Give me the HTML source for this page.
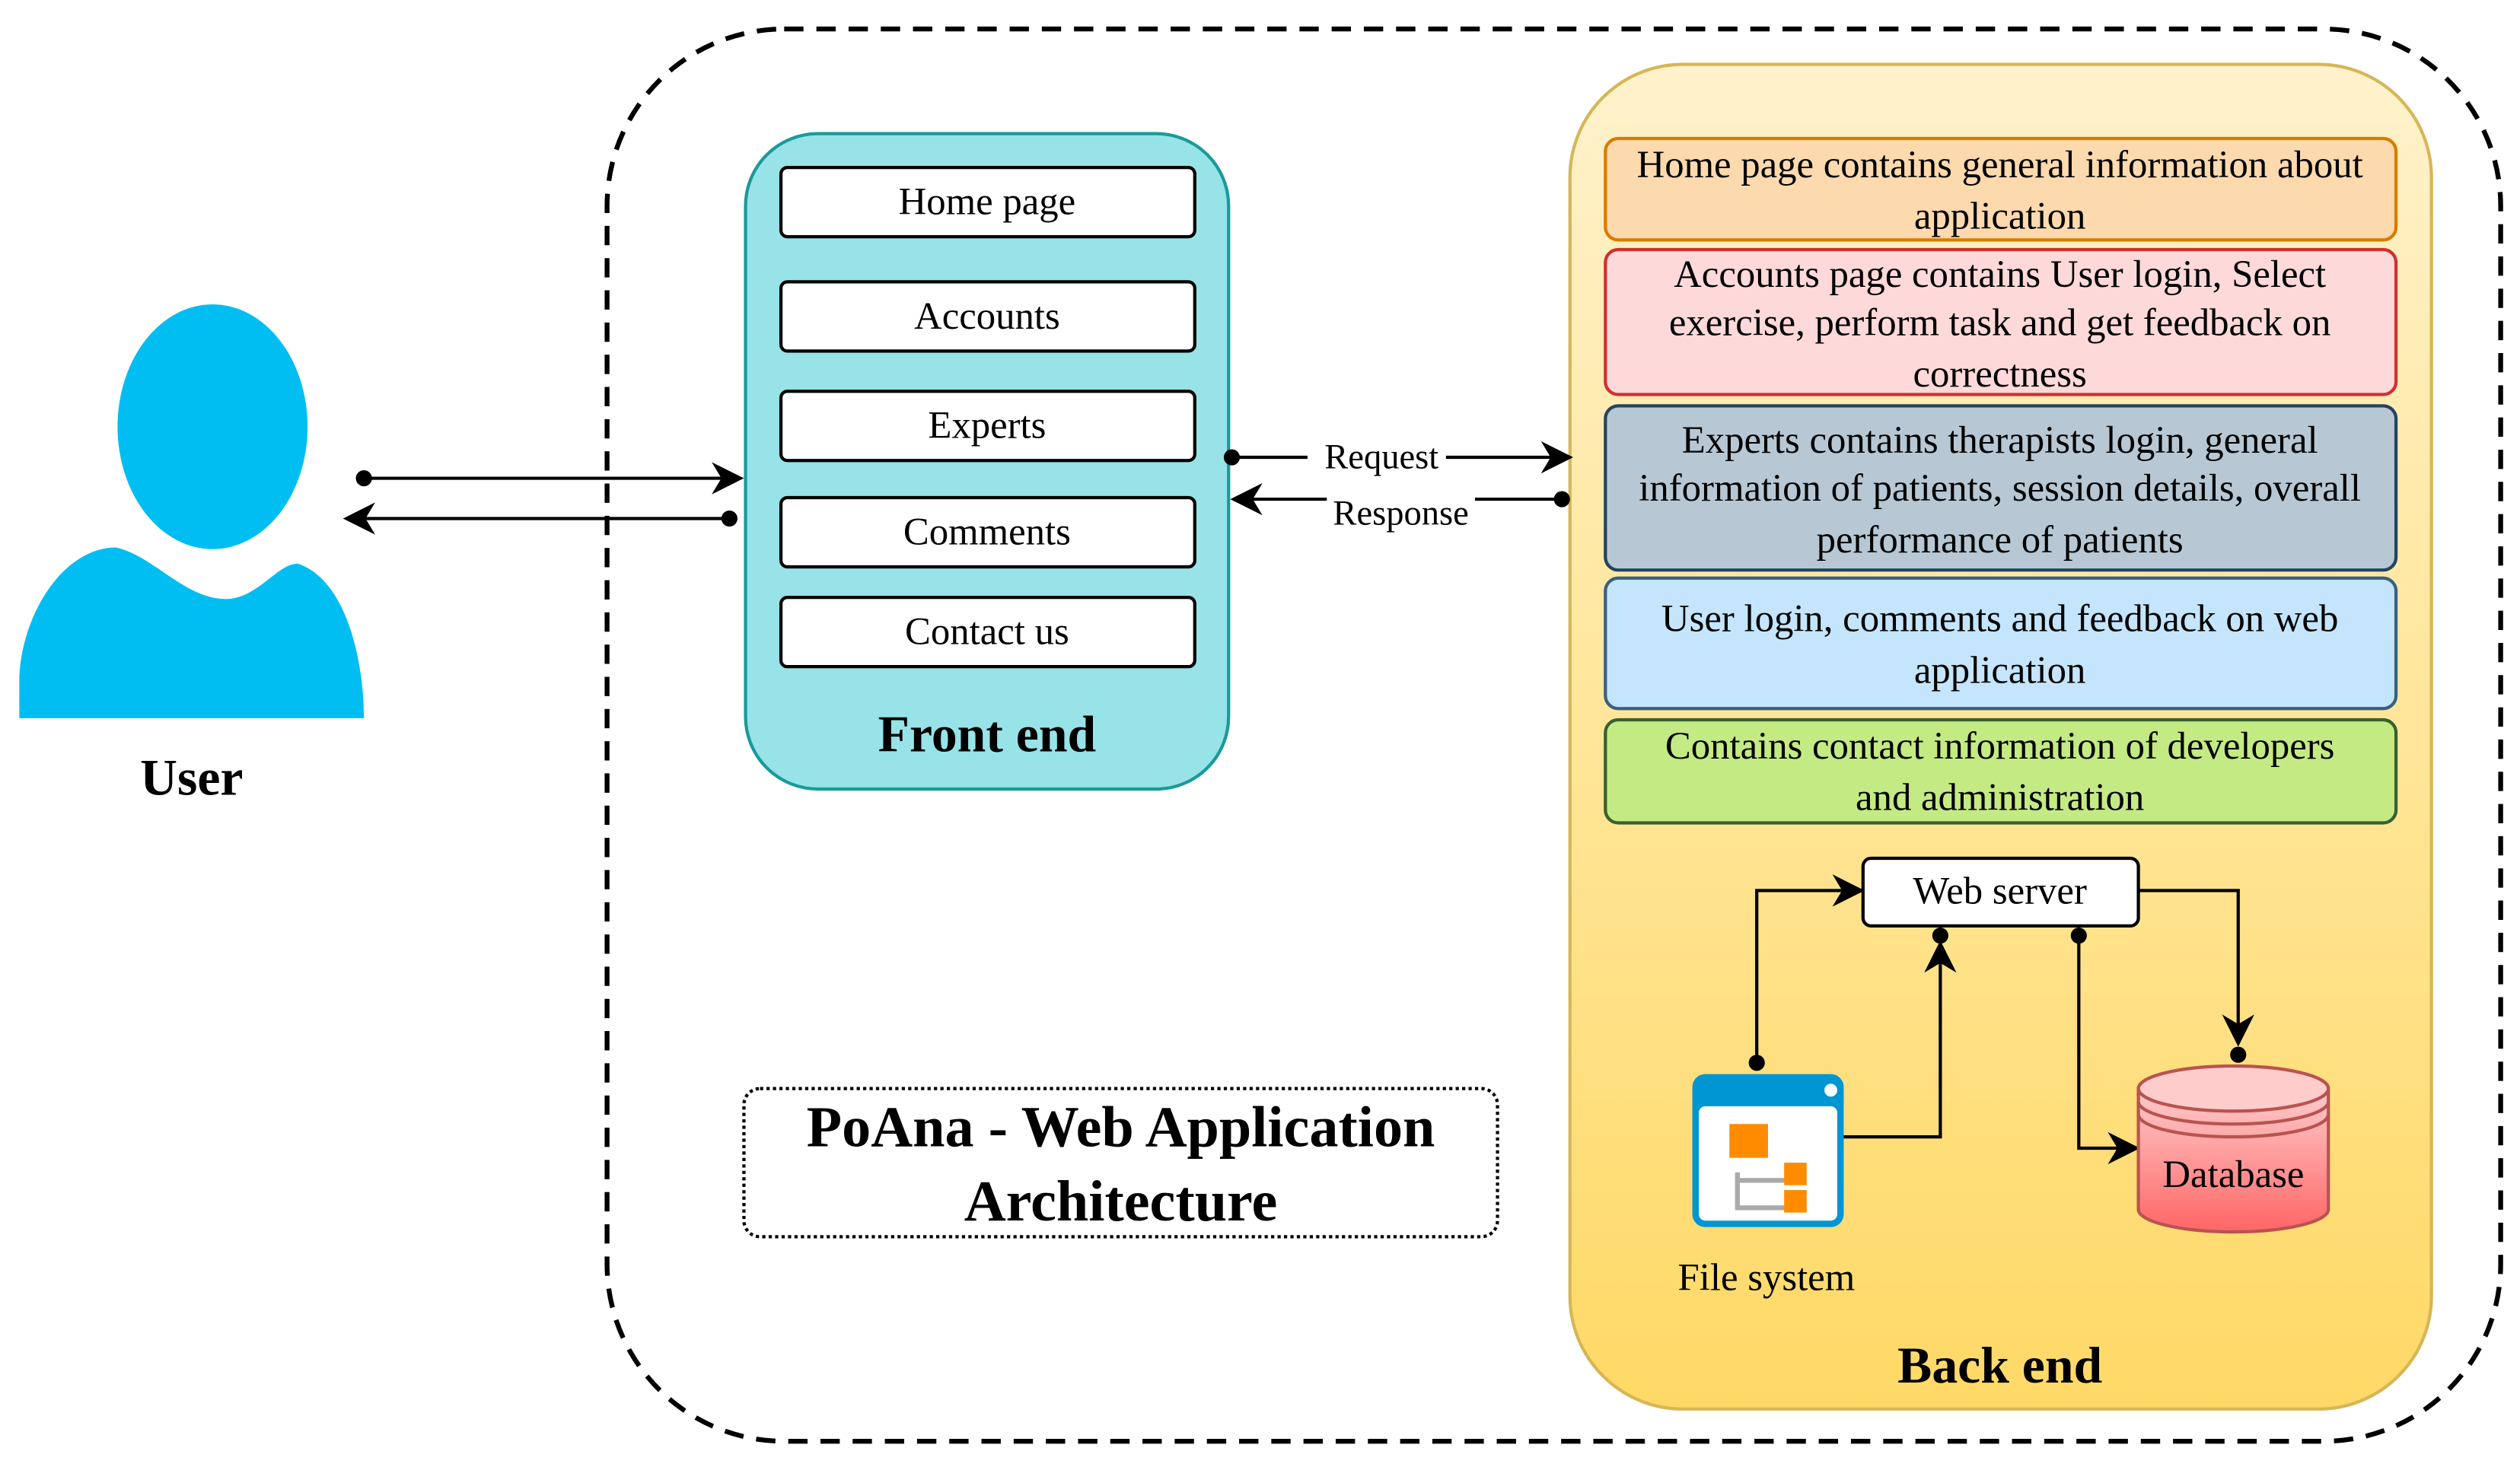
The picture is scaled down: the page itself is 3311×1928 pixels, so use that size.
<!DOCTYPE html>
<html><head><meta charset="utf-8"><style>
html,body{margin:0;padding:0;background:#fff;}
svg{display:block;}
text{font-family:"Liberation Serif",serif;}
</style></head><body>
<svg width="3311" height="1928" viewBox="0 0 1565 911" preserveAspectRatio="none" xmlns="http://www.w3.org/2000/svg">
<defs>
<linearGradient id="be" x1="0" y1="0" x2="0" y2="1"><stop offset="0" stop-color="#fff2cc"/><stop offset="1" stop-color="#ffd966"/></linearGradient>
<linearGradient id="db" x1="0" y1="0" x2="0" y2="1"><stop offset="0" stop-color="#ffcccc"/><stop offset="1" stop-color="#f66"/></linearGradient>
<marker id="ar2" viewBox="0 0 10 10" refX="9" refY="5" markerWidth="20" markerHeight="20" orient="auto" markerUnits="userSpaceOnUse"><path d="M0,0 L10,5 L0,10 L3,5 Z" fill="#000"/></marker>
</defs>
<rect x="377" y="18" width="1176" height="877" rx="110" fill="none" stroke="#000" stroke-width="3" stroke-dasharray="12 8"/>
<!-- user -->
<ellipse cx="132" cy="265" rx="59" ry="76" fill="#00bef2"/>
<path d="M12,446 L12,420 C14,380 40,340 72,340 C95,345 115,372 140,372 C160,372 172,350 185,350 C215,360 226,410 226,446 Z" fill="#00bef2"/>
<text x="119" y="483" font-size="32" font-weight="bold" text-anchor="middle" dominant-baseline="central">User</text>
<!-- front end -->
<rect x="463" y="83" width="300" height="407" rx="45" fill="#97e3e8" stroke="#1a9a9a" stroke-width="2"/>
<g stroke="#000" stroke-width="2" fill="#fff">
<rect x="485" y="104" width="257" height="43" rx="4"/>
<rect x="485" y="175" width="257" height="43" rx="4"/>
<rect x="485" y="243" width="257" height="43" rx="4"/>
<rect x="485" y="309" width="257" height="43" rx="4"/>
<rect x="485" y="371" width="257" height="43" rx="4"/>
</g>
<g font-size="24" text-anchor="middle" dominant-baseline="central">
<text x="613" y="125">Home page</text>
<text x="613" y="196">Accounts</text>
<text x="613" y="264">Experts</text>
<text x="613" y="330">Comments</text>
<text x="613" y="392">Contact us</text>
</g>
<text x="613" y="456" font-size="32" font-weight="bold" text-anchor="middle" dominant-baseline="central">Front end</text>
<!-- back end -->
<rect x="975" y="40" width="535" height="835" rx="70" fill="url(#be)" stroke="#d6b656" stroke-width="2"/>
<rect x="997" y="86" width="491" height="63" rx="8" fill="#fdd9ae" stroke="#d97b00" stroke-width="2"/>
<rect x="997" y="155" width="491" height="90" rx="8" fill="#fdd9d9" stroke="#d03030" stroke-width="2"/>
<rect x="997" y="252" width="491" height="102" rx="8" fill="#b7c8d4" stroke="#23445d" stroke-width="2"/>
<rect x="997" y="359" width="491" height="81" rx="8" fill="#c4e5fb" stroke="#3a6080" stroke-width="2"/>
<rect x="997" y="447" width="491" height="64" rx="8" fill="#c4ea84" stroke="#3a6030" stroke-width="2"/>
<g font-size="24" text-anchor="middle" dominant-baseline="central">
<text x="1242" y="102">Home page contains general information about</text>
<text x="1242" y="134">application</text>
<text x="1242" y="170">Accounts page contains User login, Select</text>
<text x="1242" y="200">exercise, perform task and get feedback on</text>
<text x="1242" y="232">correctness</text>
<text x="1242" y="273">Experts contains therapists login, general</text>
<text x="1242" y="303">information of patients, session details, overall</text>
<text x="1242" y="335">performance of patients</text>
<text x="1242" y="384">User login, comments and feedback on web</text>
<text x="1242" y="416">application</text>
<text x="1242" y="463">Contains contact information of developers</text>
<text x="1242" y="495">and administration</text>
</g>
<!-- connectors -->
<g stroke="#000" stroke-width="2" fill="none">
<line x1="226" y1="297" x2="460" y2="297" marker-end="url(#ar2)"/>
<line x1="453" y1="322" x2="215" y2="322" marker-end="url(#ar2)"/>
<line x1="765" y1="284" x2="975" y2="284" marker-end="url(#ar2)"/>
<line x1="970" y1="310" x2="766" y2="310" marker-end="url(#ar2)"/>
<polyline points="1091,660 1091,553 1156,553" marker-end="url(#ar2)"/>
<polyline points="1138,706 1205,706 1205,586" marker-end="url(#ar2)"/>
<polyline points="1291,581 1291,713 1327,713" marker-end="url(#ar2)"/>
<polyline points="1328,553 1390,553 1390,648" marker-end="url(#ar2)"/>
</g>
<rect x="812" y="274" width="86" height="20" fill="#fff"/>
<text x="858" y="284" font-size="22" text-anchor="middle" dominant-baseline="central">Request</text>
<rect x="824" y="309" width="92" height="20" fill="#fff"/>
<text x="870" y="319" font-size="22" text-anchor="middle" dominant-baseline="central">Response</text>
<rect x="1157" y="533" width="171" height="42" rx="5" fill="#fff" stroke="#000" stroke-width="2"/>
<text x="1242" y="553" font-size="24" text-anchor="middle" dominant-baseline="central">Web server</text>
<!-- file system icon -->
<rect x="1051" y="667" width="94" height="95" rx="8" fill="#0095d3"/>
<rect x="1055" y="687" width="86" height="71" rx="4" fill="#fff"/>
<circle cx="1137" cy="677" r="4" fill="#fff"/>
<path d="M1079,728 L1079,750 L1110,750 M1079,733 L1110,733" stroke="#aaa" stroke-width="3" fill="none"/>
<rect x="1074" y="698" width="24" height="21" fill="#ff8c00"/>
<rect x="1108" y="722" width="14" height="14" fill="#ff8c00"/>
<rect x="1108" y="739" width="14" height="14" fill="#ff8c00"/>
<text x="1097" y="793" font-size="24" text-anchor="middle" dominant-baseline="central">File system</text>
<!-- database -->
<path d="M1328,676 L1328,751 A59,14 0 0 0 1446,751 L1446,676 Z" fill="url(#db)" stroke="#b85450" stroke-width="2"/>
<ellipse cx="1387" cy="676" rx="59" ry="14" fill="#ffcccc" stroke="#b85450" stroke-width="2"/>
<path d="M1328,684 A59,14 0 0 0 1446,684 M1328,692 A59,14 0 0 0 1446,692" fill="none" stroke="#b85450" stroke-width="2"/>
<text x="1387" y="729" font-size="24" text-anchor="middle" dominant-baseline="central">Database</text>
<g fill="#000">
<circle cx="226" cy="297" r="5"/><circle cx="453" cy="322" r="5"/>
<circle cx="765" cy="284" r="5"/><circle cx="970" cy="310" r="5"/>
<circle cx="1091" cy="660" r="5"/><circle cx="1205" cy="581" r="5"/>
<circle cx="1291" cy="581" r="5"/><circle cx="1390" cy="655" r="5"/>
</g>
<text x="1242" y="848" font-size="32" font-weight="bold" text-anchor="middle" dominant-baseline="central">Back end</text>
<!-- title -->
<rect x="462" y="676" width="468" height="92" rx="10" fill="#fff" stroke="#000" stroke-width="2" stroke-dasharray="2 2"/>
<text x="696" y="700" font-size="36" font-weight="bold" text-anchor="middle" dominant-baseline="central">PoAna - Web Application</text>
<text x="696" y="746" font-size="36" font-weight="bold" text-anchor="middle" dominant-baseline="central">Architecture</text>
</svg>
</body></html>
